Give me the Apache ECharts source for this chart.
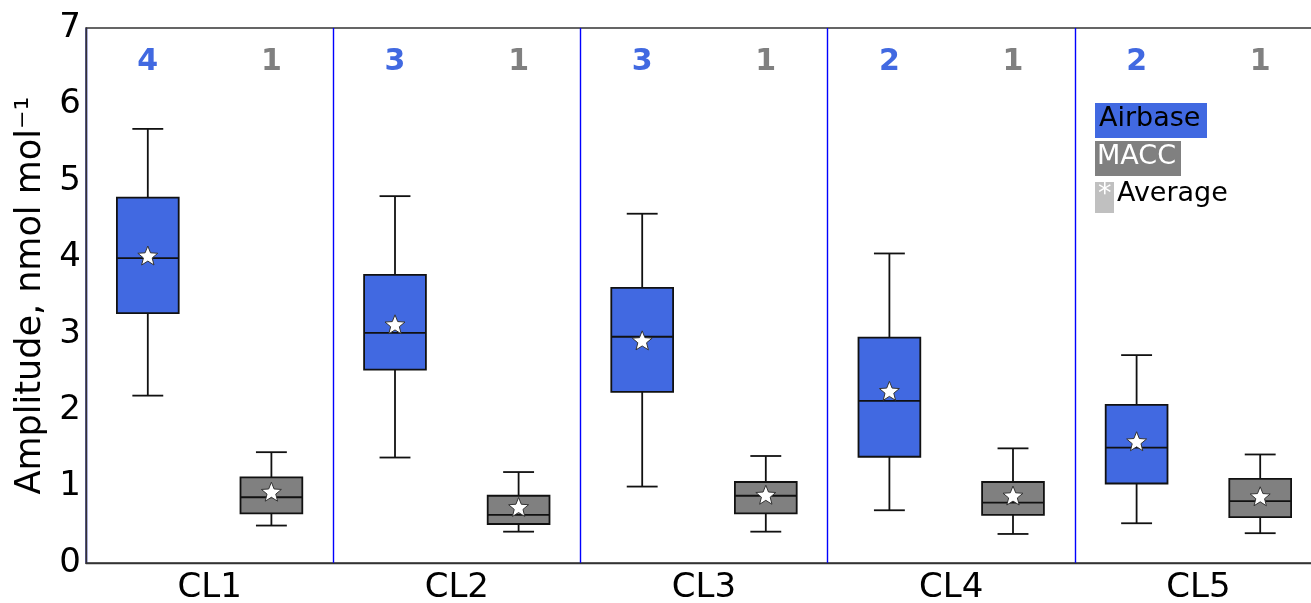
<!DOCTYPE html>
<html><head><meta charset="utf-8">
<script src="https://cdn.jsdelivr.net/npm/echarts@6/dist/echarts.min.js"></script>
<style>html,body{margin:0;padding:0;background:#fff}#c{width:1311px;height:603px}</style>
</head><body><div id="c"></div>
<script>
// ---- data ----
const categories = ['CL1', 'CL2', 'CL3', 'CL4', 'CL5'];
const yTicks = [0, 1, 2, 3, 4, 5, 6, 7];
// [min, q1, median, q3, max]
const airbaseBox = [
  [2.19, 3.27, 3.99, 4.78, 5.68],
  [1.38, 2.53, 3.01, 3.77, 4.80],
  [1.00, 2.24, 2.96, 3.60, 4.57],
  [0.69, 1.39, 2.12, 2.95, 4.05],
  [0.52, 1.04, 1.51, 2.07, 2.72]
];
const airbaseMean = [4.01, 3.11, 2.90, 2.24, 1.58];
const airbaseCount = [4, 3, 3, 2, 2];
const maccBox = [
  [0.49, 0.65, 0.86, 1.12, 1.45],
  [0.41, 0.51, 0.63, 0.88, 1.19],
  [0.41, 0.65, 0.88, 1.06, 1.40],
  [0.38, 0.63, 0.79, 1.06, 1.50],
  [0.39, 0.60, 0.81, 1.10, 1.42]
];
const maccMean = [0.92, 0.72, 0.88, 0.87, 0.86];
const maccCount = [1, 1, 1, 1, 1];

const BLUE = '#4169E1', GRAY = '#808080';

function buildData(box, mean, count) {
  return box.map((b, i) => [i, b[0], b[1], b[2], b[3], b[4], mean[i], count[i]]);
}

function starPoints(cx, cy, R, r) {
  const pts = [];
  for (let k = 0; k < 10; k++) {
    const rad = (k % 2 === 0) ? R : r;
    const a = -Math.PI / 2 + k * Math.PI / 5;
    pts.push([cx + rad * Math.cos(a), cy + rad * Math.sin(a)]);
  }
  return pts;
}

function makeRender(offsetFrac, color) {
  return function (params, api) {
    const ci = api.value(0);
    const band = api.size([1, 0])[0];
    const cx = api.coord([ci, 0])[0] + offsetFrac * band;
    const w = band * 0.25, cap = w * 0.5;
    const py = idx => api.coord([ci, api.value(idx)])[1];
    const pMin = py(1), pQ1 = py(2), pMed = py(3), pQ3 = py(4), pMax = py(5), pMean = py(6);
    const ls = { stroke: '#111', lineWidth: 1.8 };
    const top = params.coordSys.y;
    return {
      type: 'group',
      children: [
        { type: 'line', shape: { x1: cx, y1: pQ3, x2: cx, y2: pMax }, style: ls },
        { type: 'line', shape: { x1: cx - cap / 2, y1: pMax, x2: cx + cap / 2, y2: pMax }, style: ls },
        { type: 'line', shape: { x1: cx, y1: pQ1, x2: cx, y2: pMin }, style: ls },
        { type: 'line', shape: { x1: cx - cap / 2, y1: pMin, x2: cx + cap / 2, y2: pMin }, style: ls },
        { type: 'rect', shape: { x: cx - w / 2, y: pQ3, width: w, height: pQ1 - pQ3 }, style: { fill: color, stroke: '#111', lineWidth: 1.8 } },
        { type: 'line', shape: { x1: cx - w / 2, y1: pMed, x2: cx + w / 2, y2: pMed }, style: ls },
        { type: 'polygon', shape: { points: starPoints(cx, pMean, 10.5, 4.6) }, style: { fill: '#fff', stroke: '#333', lineWidth: 1 } },
        { type: 'text', x: cx, y: top + 34, style: { text: String(api.value(7)), fill: color, font: 'bold 30px "DejaVu Sans"', align: 'center', verticalAlign: 'middle' } }
      ]
    };
  };
}

const chart = echarts.init(document.getElementById('c'), null, { renderer: 'canvas' });
chart.setOption({
  animation: false,
  backgroundColor: '#fff',
  grid: { left: 86, right: -11, top: 28, bottom: 40, outerBoundsMode: 'none', containLabel: false, show: true, borderColor: '#333', borderWidth: 1.4, backgroundColor: 'transparent' },
  xAxis: {
    type: 'category', data: categories, boundaryGap: true,
    axisLine: { show: true, lineStyle: { color: '#333', width: 1.4 } },
    axisTick: { show: false },
    axisLabel: { fontFamily: 'DejaVu Sans', fontSize: 34, color: '#000', margin: 8 },
    splitLine: { show: true, interval: 0, lineStyle: { color: '#0000ff', width: 1.4 } }
  },
  yAxis: {
    type: 'value', min: 0, max: 7, interval: 1,
    name: 'Amplitude, nmol mol⁻¹', nameLocation: 'middle', nameGap: 36, nameRotate: 90,
    nameTextStyle: { fontFamily: 'DejaVu Sans', fontSize: 35, color: '#000' },
    axisLine: { show: true, lineStyle: { color: '#333', width: 1.4 } },
    axisTick: { show: false },
    axisLabel: { fontFamily: 'DejaVu Sans', fontSize: 34, color: '#000', margin: 5,
      formatter: v => (yTicks.indexOf(v) >= 0 ? String(v) : '') },
    splitLine: { show: false }
  },
  series: [
    { name: 'Airbase', type: 'custom', renderItem: makeRender(-0.25, BLUE), data: buildData(airbaseBox, airbaseMean, airbaseCount), encode: { x: 0, y: [1, 2, 3, 4, 5] }, z: 5 },
    { name: 'MACC', type: 'custom', renderItem: makeRender(0.25, GRAY), data: buildData(maccBox, maccMean, maccCount), encode: { x: 0, y: [1, 2, 3, 4, 5] }, z: 5 }
  ],
  graphic: [
    { type: 'rect', left: 1095, top: 103, shape: { width: 112, height: 35 }, style: { fill: BLUE } },
    { type: 'text', left: 1099, top: 105, style: { text: 'Airbase', fill: '#000', font: '27px "DejaVu Sans"' } },
    { type: 'rect', left: 1095, top: 141, shape: { width: 86, height: 35 }, style: { fill: GRAY } },
    { type: 'text', left: 1097, top: 143, style: { text: 'MACC', fill: '#fff', font: '27px "DejaVu Sans"' } },
    { type: 'rect', left: 1095, top: 182, shape: { width: 19, height: 31 }, style: { fill: '#c0c0c0' } },
    { type: 'text', left: 1098, top: 181, style: { text: '*', fill: '#fff', font: '27px "DejaVu Sans"' } },
    { type: 'text', left: 1117, top: 180, style: { text: 'Average', fill: '#000', font: '27px "DejaVu Sans"' } }
  ]
});
</script></body></html>
